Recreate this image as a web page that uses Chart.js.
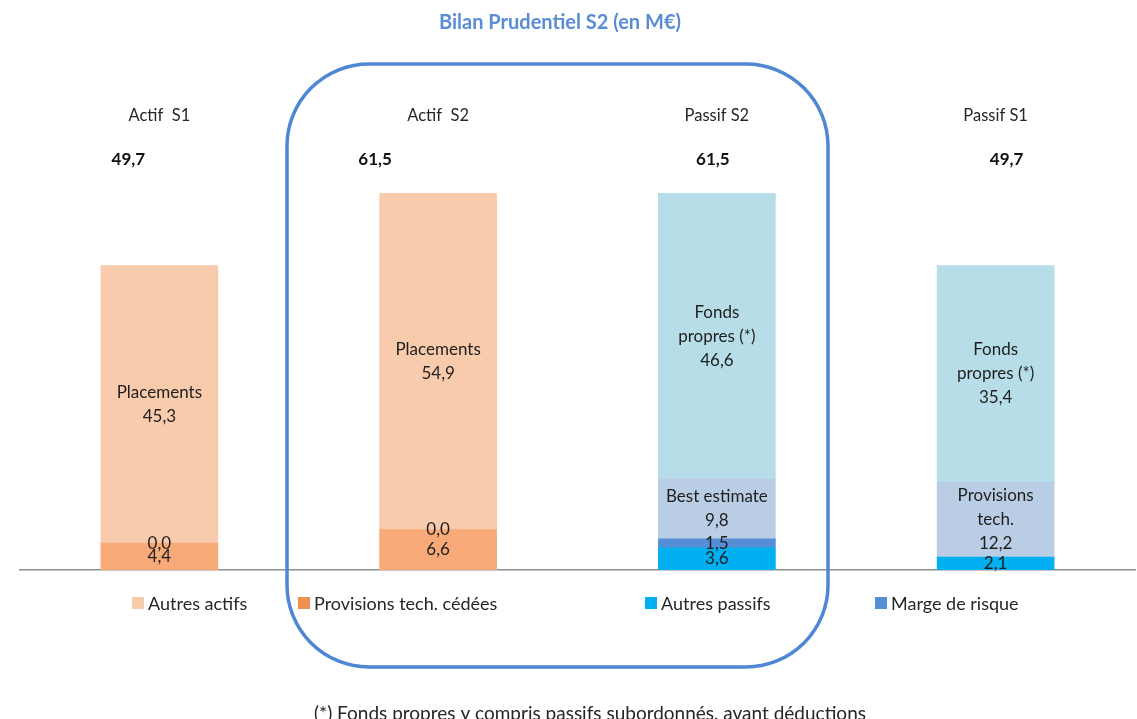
<!DOCTYPE html>
<html lang="fr">
<head>
<meta charset="utf-8">
<title>Bilan Prudentiel S2</title>
<script src="https://cdn.jsdelivr.net/npm/chart.js@4/dist/chart.umd.min.js"></script>
<style>
  html, body { margin: 0; padding: 0; background: #ffffff; }
  #wrap { width: 1137px; height: 719px; }
</style>
</head>
<body>
<div id="wrap"><canvas id="bilan" width="1137" height="719"></canvas></div>
<script>
// Balance sheet columns (M€)
const categories = ['Actif  S1', 'Actif  S2', 'Passif S2', 'Passif S1'];

// Asset side
const provisionsCedees = [4.4, 6.6, null, null];
const autresActifs     = [0.0, 0.0, null, null];
const placements       = [45.3, 54.9, null, null];

// Liability side
const autresPassifs    = [null, null, 3.6, 2.1];
const margeRisque      = [null, null, 1.5, null];
const provisionsTech   = [null, null, 9.8, 12.2];
const fondsPropres     = [null, null, 46.6, 35.4];

// Names printed inside the larger segments
const placementsNames     = [['Placements'], ['Placements'], null, null];
const provisionsTechNames = [null, null, ['Best estimate'], ['Provisions', 'tech.']];
const fondsPropresNames   = [null, null, ['Fonds', 'propres (*)'], ['Fonds', 'propres (*)']];

const FONT = 'Lato, "Open Sans", "Liberation Sans", sans-serif';
const fmt = v => v.toFixed(1).replace('.', ',');

const datasets = [
  { label: 'Provisions tech. cédées', data: provisionsCedees, backgroundColor: '#F7AA78', legendColor: '#EE9150', inLegend: true },
  { label: 'Autres actifs', data: autresActifs, backgroundColor: '#F8CBAD', legendColor: '#F8CBAD', inLegend: true },
  { label: 'Placements', data: placements, backgroundColor: '#F8CBAD', names: placementsNames },
  { label: 'Autres passifs', data: autresPassifs, backgroundColor: '#00B0F0', legendColor: '#00B0F0', inLegend: true },
  { label: 'Marge de risque', data: margeRisque, backgroundColor: '#558ED5', legendColor: '#558ED5', inLegend: true },
  { label: 'Provisions techniques', data: provisionsTech, backgroundColor: '#B9CDE5', names: provisionsTechNames },
  { label: 'Fonds propres (*)', data: fondsPropres, backgroundColor: '#B7DEE8', names: fondsPropresNames }
];

// Text and decorations drawn around the stacked bars
const annotations = {
  id: 'annotations',
  afterDatasetsDraw(chart) {
    const { ctx } = chart;
    ctx.save();
    ctx.fillStyle = '#1e1e1e';
    ctx.font = '17px ' + FONT;
    ctx.textAlign = 'center';
    ctx.textBaseline = 'middle';
    chart.data.datasets.forEach((ds, di) => {
      const meta = chart.getDatasetMeta(di);
      meta.data.forEach((bar, i) => {
        const v = ds.data[i];
        if (v === null || v === undefined) return;
        const names = ds.names && ds.names[i] ? ds.names[i] : [];
        const lines = names.concat([fmt(v)]);
        const cy = (bar.y + bar.base) / 2;
        const lh = 24;
        lines.forEach((t, k) => {
          ctx.fillText(t, bar.x, cy + (k - (lines.length - 1) / 2) * lh);
        });
      });
    });
    ctx.restore();
  },
  afterDraw(chart, args, opts) {
    const { ctx } = chart;
    const x = chart.scales.x, y = chart.scales.y;
    ctx.save();

    // title
    ctx.fillStyle = '#5A8DD6';
    ctx.font = 'bold 20px ' + FONT;
    ctx.textAlign = 'center';
    ctx.textBaseline = 'middle';
    ctx.fillText('Bilan Prudentiel S2 (en M€)', 560, 23);

    // column headings and totals
    categories.forEach((c, i) => {
      const cx = x.getPixelForValue(i);
      ctx.fillStyle = '#262626';
      ctx.font = '16.5px ' + FONT;
      ctx.fillText(c, cx, y.getPixelForValue(74.2));
      let total = 0;
      chart.data.datasets.forEach(ds => { if (ds.data[i] != null) total += ds.data[i]; });
      ctx.font = 'bold 17px ' + FONT;
      ctx.fillStyle = '#111111';
      ctx.fillText(fmt(total), cx + opts.totalShift[i], y.getPixelForValue(67));
    });

    // legend
    ctx.textAlign = 'left';
    ctx.font = '18px ' + FONT;
    const legendItems = chart.data.datasets.filter(ds => ds.inLegend);
    const order = ['Autres actifs', 'Provisions tech. cédées', 'Autres passifs', 'Marge de risque'];
    order.forEach((name, k) => {
      const ds = legendItems.find(d => d.label === name);
      const lx = opts.legendX[k];
      ctx.fillStyle = ds.legendColor;
      ctx.fillRect(lx, opts.legendY - 6, 12, 12);
      ctx.fillStyle = '#262626';
      ctx.fillText(name, lx + 16, opts.legendY + 1);
    });

    // footnote
    ctx.textAlign = 'center';
    ctx.textBaseline = 'alphabetic';
    ctx.font = '19px ' + FONT;
    ctx.fillStyle = '#262626';
    ctx.fillText('(*) Fonds propres y compris passifs subordonnés, avant déductions', 590, 720);

    // frame around the S2 columns
    ctx.strokeStyle = '#4F87D5';
    ctx.lineWidth = 3.5;
    ctx.beginPath();
    ctx.roundRect(287, 64, 541, 603, 82);
    ctx.stroke();

    ctx.restore();
  }
};

new Chart(document.getElementById('bilan'), {
  type: 'bar',
  data: { labels: categories, datasets },
  plugins: [annotations],
  options: {
    responsive: false,
    animation: false,
    layout: { padding: { left: 20, right: 2, top: 80, bottom: 149 } },
    datasets: { bar: { barThickness: 117, borderWidth: 0 } },
    scales: {
      x: {
        stacked: true,
        grid: { display: false, drawTicks: false },
        ticks: { display: false },
        border: { display: true, color: '#8f8f8f', width: 1.5 }
      },
      y: { stacked: true, display: false, min: 0, max: 80 }
    },
    plugins: {
      legend: { display: false },
      tooltip: { enabled: false },
      annotations: {
        totalShift: [-31, -63, -4, 11],
        legendX: [132, 298, 645, 875],
        legendY: 603
      }
    }
  }
});
</script>
</body>
</html>
